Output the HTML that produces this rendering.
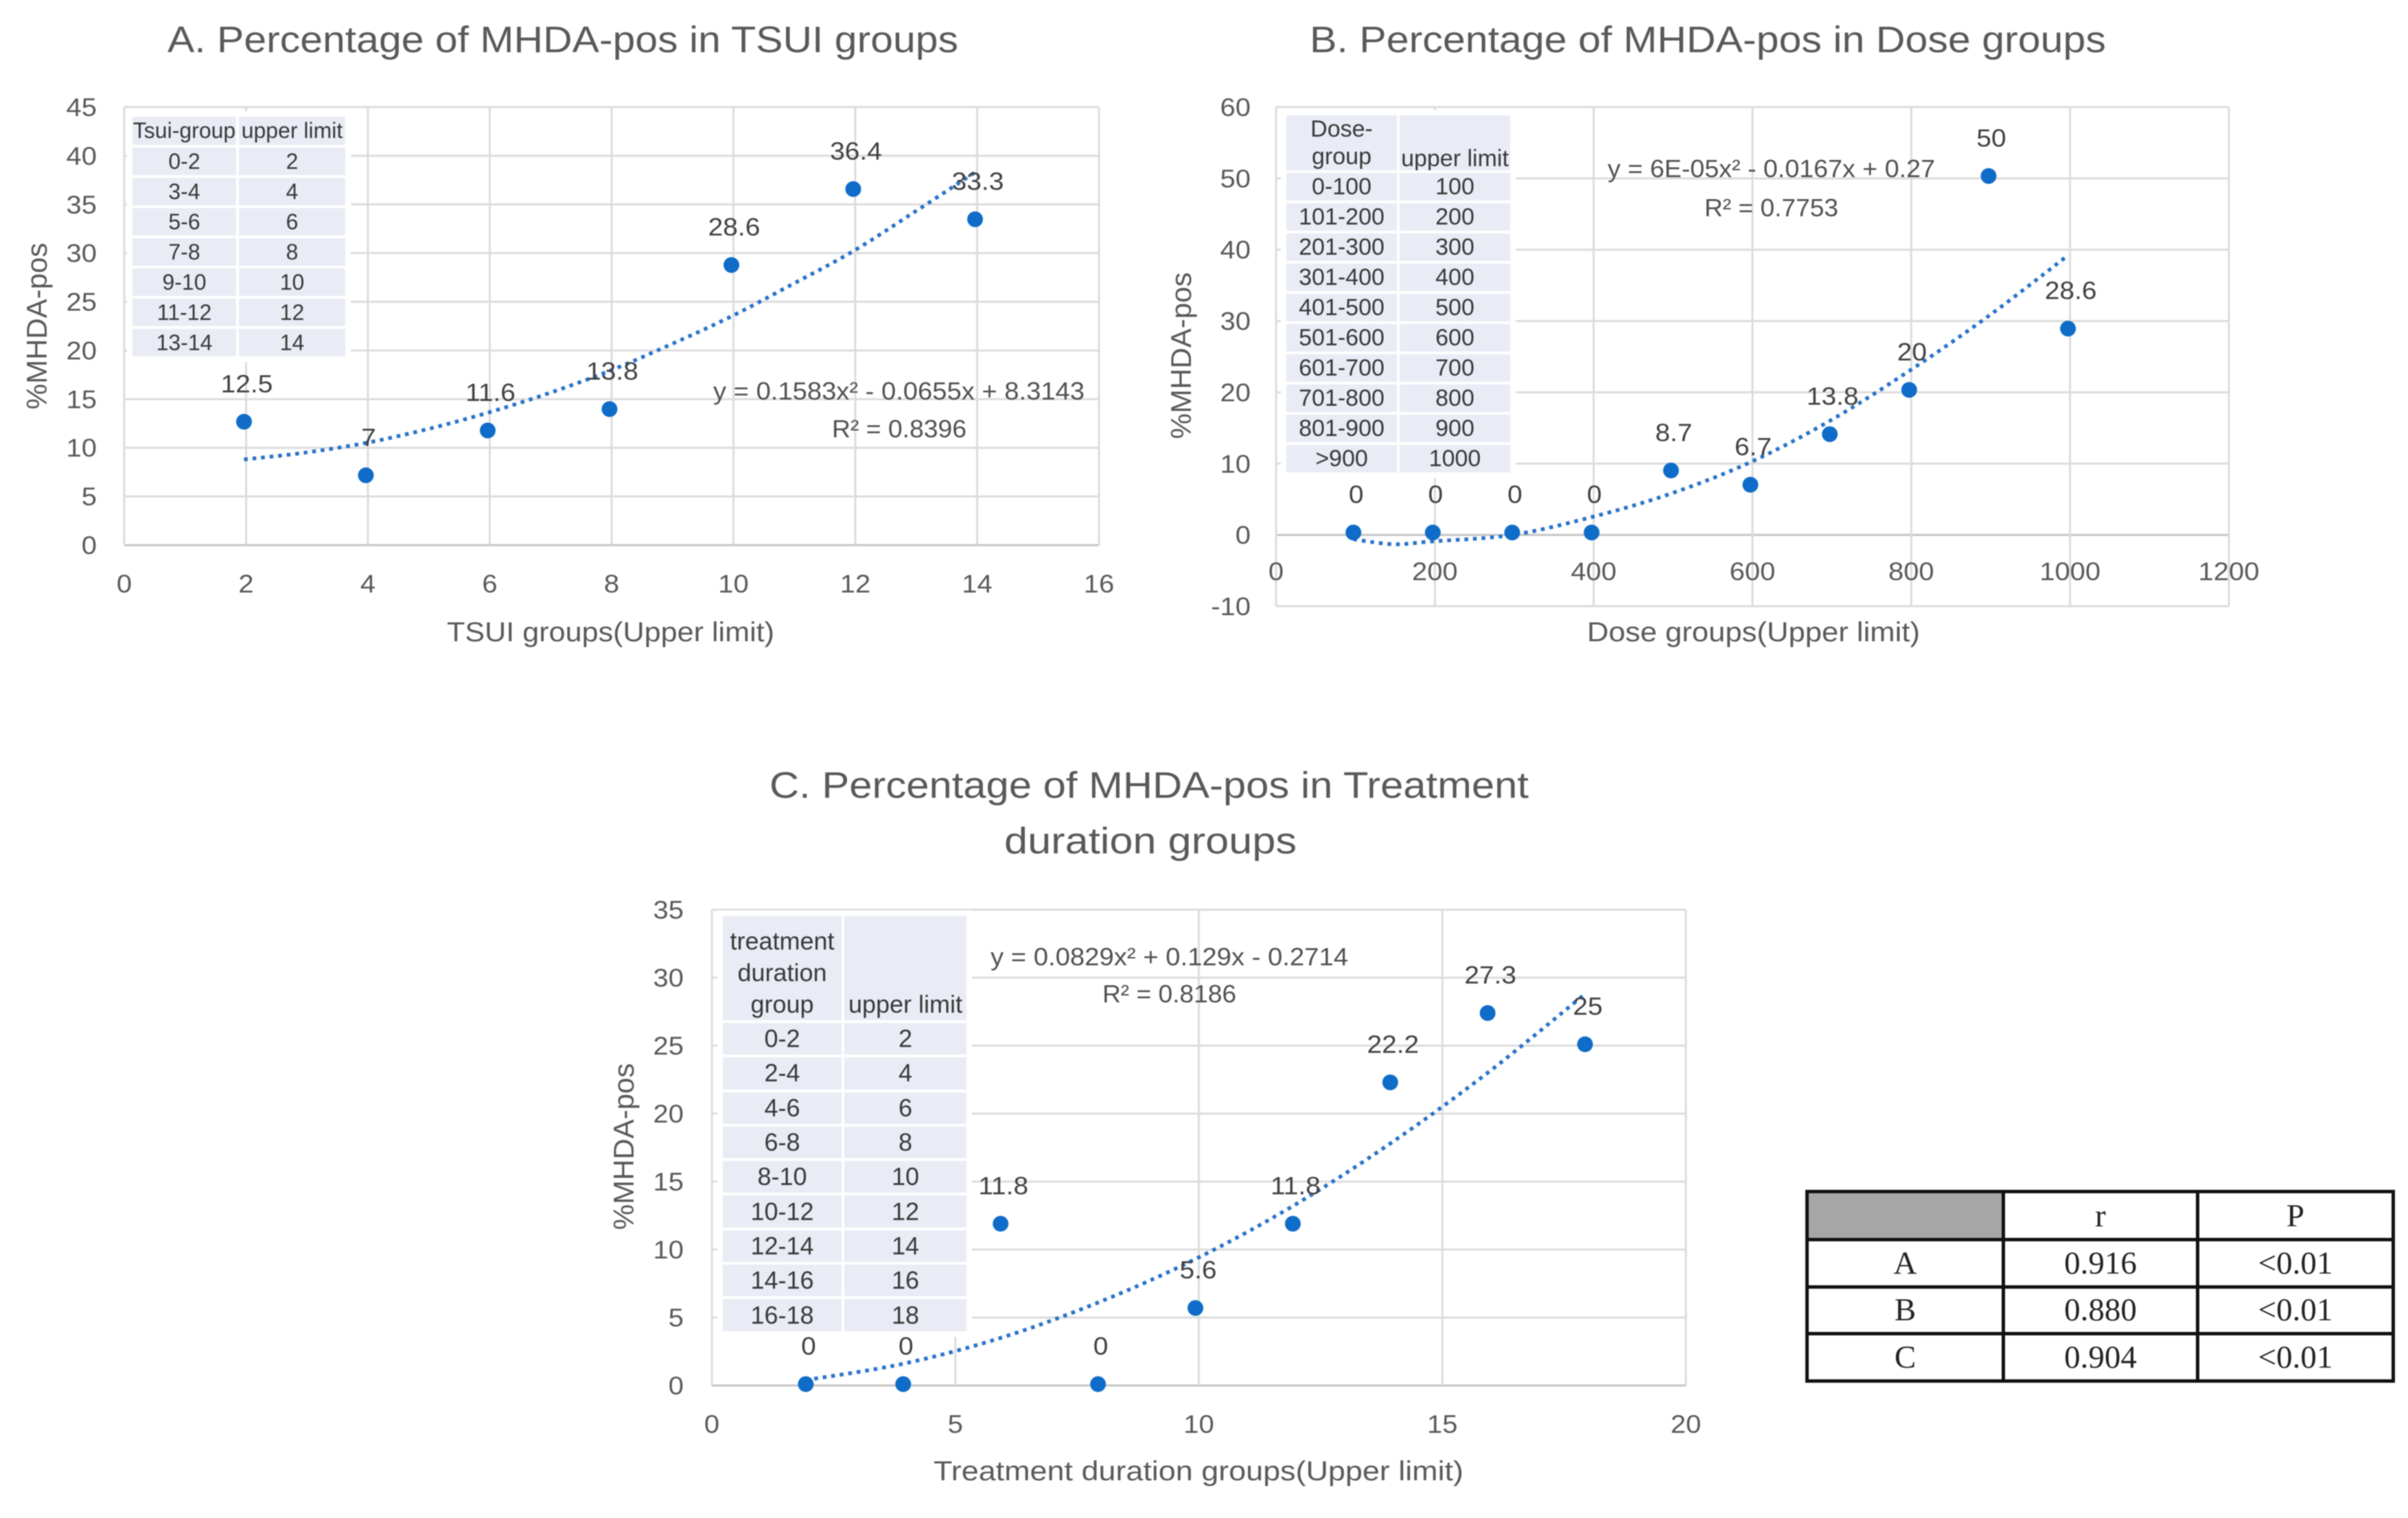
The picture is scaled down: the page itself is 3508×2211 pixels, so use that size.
<!DOCTYPE html>
<html lang="en">
<head>
<meta charset="utf-8">
<title>Percentage of MHDA-pos charts</title>
<style>
html,body{margin:0;padding:0;background:#fff;}
#page{position:relative;width:3508px;height:2211px;overflow:hidden;background:#fff;filter:blur(0.9px);font-family:"Liberation Sans",sans-serif;}
#charts{position:absolute;left:0;top:0;}
table{position:absolute;table-layout:fixed;border-collapse:collapse;}
table.key{color:#383838;box-shadow:0 0 0 4px #fff;}
table.key td{background:#e9ecf5;border:4px solid #fff;padding:0;text-align:center;vertical-align:middle;overflow:hidden;white-space:nowrap;}
#key-a{left:189px;top:166px;width:314px;font-size:32px;}
#key-a td{height:40px;}
#key-a tr:first-child td{height:41px;}
#key-b{left:1870px;top:164px;width:330px;font-size:34px;}
#key-b td{height:40px;line-height:40px;}
#key-b tr:first-child td{height:80px;}
#key-b td.hd{vertical-align:bottom;line-height:34px;}
#key-c{left:1049px;top:1330px;width:359px;font-size:36px;}
#key-c td{height:46.3px;line-height:46px;}
#key-c tr:first-child td{height:148px;padding-top:14px;box-sizing:border-box;line-height:46px;}
#key-c td.hd{vertical-align:bottom;line-height:38px;}
#stats{left:2630px;top:1733px;width:854px;font-family:"Liberation Serif",serif;font-size:47px;color:#222;}
#stats td{border:5px solid #111;padding:0;text-align:center;vertical-align:middle;height:63.5px;}
#stats tr:first-child td{height:65px;}
#stats td.blank{background:#a6a6a6;}
</style>
</head>
<body>
<div id="page">
<svg id="charts" width="3508" height="2211" viewBox="0 0 3508 2211" xmlns="http://www.w3.org/2000/svg" font-family="'Liberation Sans',sans-serif">
  <g id="layer-a"></g>
  <g id="layer-b"></g>
  <g id="layer-c"></g>
  <g fill="#595959" font-size="54">
    <text x="244" y="76" textLength="1152" lengthAdjust="spacingAndGlyphs">A. Percentage of MHDA-pos in TSUI groups</text>
    <text x="1908" y="76" textLength="1160" lengthAdjust="spacingAndGlyphs">B. Percentage of MHDA-pos in Dose groups</text>
    <text x="1121" y="1162" textLength="1106" lengthAdjust="spacingAndGlyphs">C. Percentage of MHDA-pos in Treatment</text>
    <text x="1463" y="1243" textLength="426" lengthAdjust="spacingAndGlyphs">duration groups</text>
  </g>
  <g fill="#595959" font-size="40">
    <text x="651" y="934" textLength="477" lengthAdjust="spacingAndGlyphs">TSUI groups(Upper limit)</text>
    <text x="2312" y="934" textLength="485" lengthAdjust="spacingAndGlyphs">Dose groups(Upper limit)</text>
    <text x="1360" y="2156" textLength="772" lengthAdjust="spacingAndGlyphs">Treatment duration groups(Upper limit)</text>
    <text transform="translate(68,475) rotate(-90)" text-anchor="middle" font-size="42">%MHDA-pos</text>
    <text transform="translate(1735,518) rotate(-90)" text-anchor="middle" font-size="42">%MHDA-pos</text>
    <text transform="translate(923,1670) rotate(-90)" text-anchor="middle" font-size="42">%MHDA-pos</text>
  </g>
  <g fill="#505050" font-size="36">
    <text x="1039" y="582" textLength="541" lengthAdjust="spacingAndGlyphs">y = 0.1583x² - 0.0655x + 8.3143</text>
    <text x="1212" y="637" textLength="196" lengthAdjust="spacingAndGlyphs">R² = 0.8396</text>
    <text x="2342" y="258" textLength="477" lengthAdjust="spacingAndGlyphs">y = 6E-05x² - 0.0167x + 0.27</text>
    <text x="2483" y="315" textLength="195" lengthAdjust="spacingAndGlyphs">R² = 0.7753</text>
    <text x="1443" y="1406" textLength="521" lengthAdjust="spacingAndGlyphs">y = 0.0829x² + 0.129x - 0.2714</text>
    <text x="1606" y="1460" textLength="195" lengthAdjust="spacingAndGlyphs">R² = 0.8186</text>
  </g>
</svg>

<table id="key-a" class="key">
  <colgroup><col style="width:155px"><col style="width:159px"></colgroup>
  <tr><td>Tsui-group</td><td>upper limit</td></tr>
  <tr><td>0-2</td><td>2</td></tr>
  <tr><td>3-4</td><td>4</td></tr>
  <tr><td>5-6</td><td>6</td></tr>
  <tr><td>7-8</td><td>8</td></tr>
  <tr><td>9-10</td><td>10</td></tr>
  <tr><td>11-12</td><td>12</td></tr>
  <tr><td>13-14</td><td>14</td></tr>
</table>

<table id="key-b" class="key">
  <colgroup><col style="width:165px"><col style="width:165px"></colgroup>
  <tr><td>Dose-<br>group</td><td class="hd">upper limit</td></tr>
  <tr><td>0-100</td><td>100</td></tr>
  <tr><td>101-200</td><td>200</td></tr>
  <tr><td>201-300</td><td>300</td></tr>
  <tr><td>301-400</td><td>400</td></tr>
  <tr><td>401-500</td><td>500</td></tr>
  <tr><td>501-600</td><td>600</td></tr>
  <tr><td>601-700</td><td>700</td></tr>
  <tr><td>701-800</td><td>800</td></tr>
  <tr><td>801-900</td><td>900</td></tr>
  <tr><td>&gt;900</td><td>1000</td></tr>
</table>

<table id="key-c" class="key">
  <colgroup><col style="width:177px"><col style="width:182px"></colgroup>
  <tr><td>treatment<br>duration<br>group</td><td class="hd">upper limit</td></tr>
  <tr><td>0-2</td><td>2</td></tr>
  <tr><td>2-4</td><td>4</td></tr>
  <tr><td>4-6</td><td>6</td></tr>
  <tr><td>6-8</td><td>8</td></tr>
  <tr><td>8-10</td><td>10</td></tr>
  <tr><td>10-12</td><td>12</td></tr>
  <tr><td>12-14</td><td>14</td></tr>
  <tr><td>14-16</td><td>16</td></tr>
  <tr><td>16-18</td><td>18</td></tr>
</table>

<table id="stats">
  <colgroup><col style="width:286px"><col style="width:283px"><col style="width:285px"></colgroup>
  <tr><td class="blank"></td><td>r</td><td>P</td></tr>
  <tr><td>A</td><td>0.916</td><td>&lt;0.01</td></tr>
  <tr><td>B</td><td>0.880</td><td>&lt;0.01</td></tr>
  <tr><td>C</td><td>0.904</td><td>&lt;0.01</td></tr>
</table>
</div>

<script>
// Chart A: TSUI groups
const aCategories = [2, 4, 6, 8, 10, 12, 14];
const aValues = [12.5, 7, 11.6, 13.8, 28.6, 36.4, 33.3];
const aXTicks = [0, 2, 4, 6, 8, 10, 12, 14, 16];
const aYTicks = [0, 5, 10, 15, 20, 25, 30, 35, 40, 45];
const aTrendX = [2, 3, 4, 5, 6, 7, 8, 9, 10, 11, 12, 13, 14];
const aTrendY = [8.8, 9.5, 10.5, 11.9, 13.6, 15.6, 17.9, 20.6, 23.5, 26.8, 30.2, 34.2, 38.3];

// Chart B: Dose groups
const bCategories = [100, 200, 300, 400, 500, 600, 700, 800, 900, 1000];
const bValues = [0, 0, 0, 0, 8.7, 6.7, 13.8, 20, 50, 28.6];
const bXTicks = [0, 200, 400, 600, 800, 1000, 1200];
const bYTicks = [-10, 0, 10, 20, 30, 40, 50, 60];
const bTrendX = [100, 150, 200, 300, 400, 500, 600, 700, 800, 900, 1000];
const bTrendY = [-0.6, -1.3, -0.9, 0, 2.5, 5.8, 10.2, 16, 23, 30.7, 39.2];

// Chart C: Treatment duration groups
const cCategories = [2, 4, 6, 8, 10, 12, 14, 16, 18];
const cValues = [0, 0, 11.8, 0, 5.6, 11.8, 22.2, 27.3, 25];
const cXTicks = [0, 5, 10, 15, 20];
const cYTicks = [0, 5, 10, 15, 20, 25, 30, 35];
const cTrendX = [2, 4, 6, 8, 10, 12, 14, 16, 18];
const cTrendY = [0.4, 1.6, 3.5, 6.1, 9.3, 13.2, 17.8, 23, 28.8];

const NS = 'http://www.w3.org/2000/svg';

function make(parent, tag, attrs, text) {
  const el = document.createElementNS(NS, tag);
  for (const k in attrs) el.setAttribute(k, attrs[k]);
  if (text !== undefined) el.textContent = text;
  parent.appendChild(el);
  return el;
}

function trendPath(points) {
  let d = 'M' + points[0][0] + ' ' + points[0][1];
  for (let i = 0; i < points.length - 1; i++) {
    const p0 = points[Math.max(i - 1, 0)];
    const p1 = points[i];
    const p2 = points[i + 1];
    const p3 = points[Math.min(i + 2, points.length - 1)];
    const c1x = p1[0] + (p2[0] - p0[0]) / 6;
    const c1y = p1[1] + (p2[1] - p0[1]) / 6;
    const c2x = p2[0] - (p3[0] - p1[0]) / 6;
    const c2y = p2[1] - (p3[1] - p1[1]) / 6;
    d += 'C' + c1x + ' ' + c1y + ' ' + c2x + ' ' + c2y + ' ' + p2[0] + ' ' + p2[1];
  }
  return d;
}

function drawChart(layerId, box, xTicks, yTicks, categories, values, trendX, trendY) {
  const layer = document.getElementById(layerId);
  const xMin = xTicks[0];
  const xMax = xTicks[xTicks.length - 1];
  const yMin = yTicks[0];
  const yMax = yTicks[yTicks.length - 1];
  const xPos = v => box.left + (v - xMin) / (xMax - xMin) * (box.right - box.left);
  const yPos = v => box.bottom - (v - yMin) / (yMax - yMin) * (box.bottom - box.top);

  yTicks.forEach(t => {
    const line = make(layer, 'line', {x1: box.left, x2: box.right, y1: yPos(t), y2: yPos(t), stroke: t === 0 ? '#c4c4c4' : '#dcdcdc', 'stroke-width': 3});
    
    
    const label = make(layer, 'text', {x: 0, y: 0, transform: 'translate(' + box.yLabelX + ',' + (yPos(t) + 13) + ') scale(1.08,1)', 'text-anchor': 'end', 'font-size': 37, fill: '#595959'}, String(t));
    
    
  });

  xTicks.forEach(t => {
    const line = make(layer, 'line', {x1: xPos(t), x2: xPos(t), y1: box.top, y2: box.bottom, stroke: '#dcdcdc', 'stroke-width': 3});
    
    
    const label = make(layer, 'text', {x: 0, y: 0, transform: 'translate(' + xPos(t) + ',' + box.xLabelY + ') scale(1.08,1)', 'text-anchor': 'middle', 'font-size': 37, fill: '#595959'}, String(t));
    
    
  });

  const pts = trendX.map((x, i) => [xPos(x) + box.dx, yPos(trendY[i])]);
  const trend = make(layer, 'path', {d: trendPath(pts), fill: 'none', stroke: '#2a72c8', 'stroke-width': 5.5, 'stroke-dasharray': '5.5 7'});
  
  

  categories.forEach((c, i) => {
    const cx = xPos(c) + box.dx;
    const cy = yPos(values[i]) + box.dy;
    const dot = make(layer, 'circle', {cx: cx, cy: cy, r: 11.5, fill: '#0f6cc8'});
    
    
    const label = make(layer, 'text', {x: 0, y: 0, transform: 'translate(' + (cx + 4) + ',' + (cy - 43) + ') scale(1.08,1)', 'text-anchor': 'middle', 'font-size': 36, fill: '#404040'}, String(values[i]));
    
    
  });
}

drawChart('layer-a', {left: 181, right: 1601, top: 156, bottom: 794, yLabelX: 141, xLabelY: 863, dx: -3, dy: -2.5}, aXTicks, aYTicks, aCategories, aValues, aTrendX, aTrendY);
drawChart('layer-b', {left: 1859, right: 3247, top: 156, bottom: 883, yLabelX: 1822, xLabelY: 845, dx: -3, dy: -3.5}, bXTicks, bYTicks, bCategories, bValues, bTrendX, bTrendY);
drawChart('layer-c', {left: 1037, right: 2456, top: 1325, bottom: 2018, yLabelX: 996, xLabelY: 2087, dx: -5, dy: -2}, cXTicks, cYTicks, cCategories, cValues, cTrendX, cTrendY);
</script>
</body>
</html>
